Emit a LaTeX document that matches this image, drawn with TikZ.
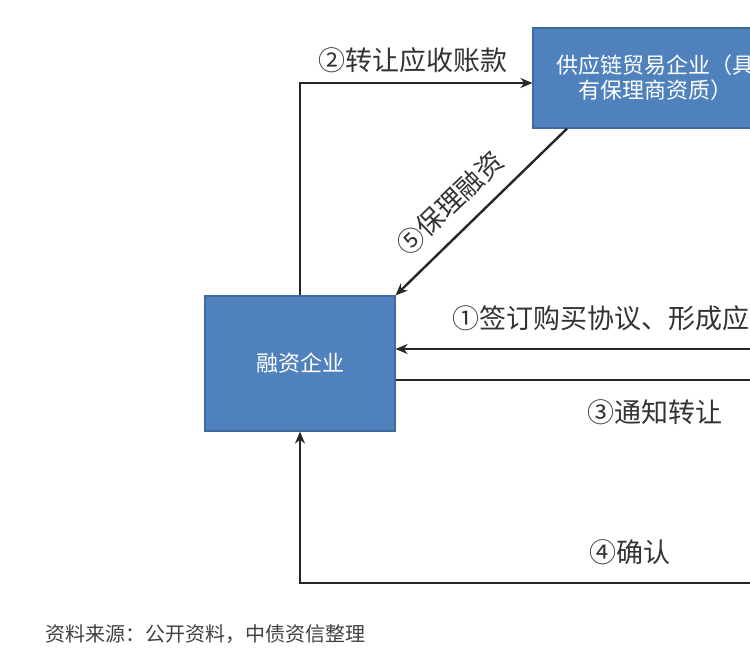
\documentclass[tikz,border=0pt]{standalone}
\usepackage{fontspec}
\setmainfont{Noto Sans CJK SC}
\usetikzlibrary{arrows.meta}
\definecolor{boxblue}{HTML}{4F81BD}
\definecolor{boxedge}{HTML}{3D6B9E}
\begin{document}
\begin{tikzpicture}[x=1pt, y=-1pt]
    \tikzset{box/.style = {draw=boxedge, line width=1.2pt, fill=boxblue, text=white, align=center, font=\fontsize{22}{25}\selectfont, inner sep=0pt}}
    \tikzset{flow/.style = {line width=2.4pt, draw=black!85}}
    \tikzset{lab/.style = {font=\fontsize{27}{30}\selectfont, text=black!80, inner sep=0pt}}
    \useasboundingbox (0,0) rectangle (750,656);
    \clip (0,0) rectangle (750,656);
    \node[box, minimum width=190pt, minimum height=135pt] (rz) at (300,363.5) {融资企业};
    \node[box, minimum width=244pt, minimum height=100pt] (gy) at (655,78) {供应链贸易企业（具\\有保理商资质）};
    % free ends towards the right (off picture)
    \coordinate (r1) at (760,349);
    \coordinate (r3) at (760,380);
    \coordinate (r4) at (760,583);
    \coordinate (t2) at (300,83);
    \draw[flow, -{Stealth[length=12pt, width=10pt]}] (rz.north) -- (t2) -- (gy.west |- t2);
    \draw[flow, -{Stealth[length=12pt, width=10pt]}] ([xshift=-88pt]gy.south) -- (rz.north east);
    \draw[flow, -{Stealth[length=12pt, width=10pt]}] (r1) -- (rz.east |- r1);
    \draw[flow] (rz.east |- r3) -- (r3);
    \draw[flow, -{Stealth[length=12pt, width=10pt]}] (r4) -| (rz.south);
    % labels
    \node[lab] (l2) at (413,60) {②转让应收账款};
    \node[lab, rotate=44] (l5) at (450,203) {⑤保理融资};
    \node[lab, anchor=east] (l1) at (750,318) {①签订购买协议、形成应};
    \node[lab] (l3) at (655,412) {③通知转让};
    \node[lab] (l4) at (630,552) {④确认};
    \node[font=\fontsize{20}{22}\selectfont, text=black!75, anchor=west, inner sep=0pt] (src) at (45,634) {资料来源：公开资料，中债资信整理};
\end{tikzpicture}
\end{document}
